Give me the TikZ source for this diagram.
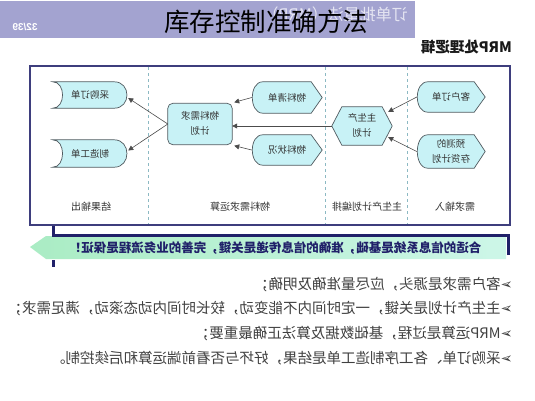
\documentclass[tikz,border=0pt]{standalone}
\usepackage{fontspec}
\usepackage{graphicx}
\usetikzlibrary{arrows.meta,calc}
\newfontfamily\cjk{Noto Sans CJK SC}
\newfontfamily\dvs{DejaVu Sans}
\newfontfamily\lib{Liberation Sans}
\newcommand\mir[1]{\reflectbox{#1}}
\newcommand\twol[2]{\begin{tabular}{@{}c@{}}#1\\#2\end{tabular}}
\pgfdeclarelayer{bg}
\pgfsetlayers{bg,main}
\definecolor{barlav}{RGB}{163,163,208}
\definecolor{shpfill}{RGB}{200,242,246}
\definecolor{shpline}{RGB}{80,90,95}
\definecolor{framec}{RGB}{62,62,125}
\definecolor{sepc}{RGB}{140,185,195}
\definecolor{navy}{RGB}{32,32,105}
\definecolor{mintL}{RGB}{170,236,196}
\definecolor{mintR}{RGB}{205,246,232}
\begin{document}
\begin{tikzpicture}[x=1pt,y=-1pt,
 shp/.style={draw=shpline,fill=shpfill,line width=0.7pt},
 tnode/.style={inner sep=0pt,text=black!80,font=\cjk\fontsize{9.5}{15}\selectfont},
 col/.style={inner sep=0pt,text=black!80,font=\cjk\fontsize{10}{12}\selectfont},
 arr/.style={draw=black!70,line width=0.6pt,-{Triangle[length=5pt,width=5pt]}},
 bul/.style={anchor=east,inner sep=0pt,text=black!75,font=\cjk\fontsize{14.5}{16}\selectfont}]
\useasboundingbox (0,0) rectangle (535,400);

% top bar
\fill[barlav] (0,1) rectangle (415,38);
\node[inner sep=0pt,anchor=east,text=white!72!barlav,font=\cjk\fontsize{16}{18}\selectfont] (ghost) at (408,14) {\mir{订单批量法（MRP）}};
\node[inner sep=0pt,text=white,font=\lib\bfseries\fontsize{10}{12}\selectfont] (pgno) at (25,27) {\mir{32/39}};
\node[inner sep=0pt,text=black,font=\cjk\fontsize{25.5}{28}\selectfont] (title) at (266,22) {库存控制准确方法};
\node[inner sep=0pt,anchor=east,text=black!90,font=\cjk\bfseries\fontsize{14.5}{16}\selectfont] (mrplogic) at (512,47) {\mir{MRP处理逻辑}};

% frame and separators
\draw[framec,line width=1.6pt] (30,66) rectangle (510,225);
\draw[sepc,dashed,line width=0.6pt] (148,67) -- (148,224);
\draw[sepc,dashed,line width=0.6pt] (325,67) -- (325,224);
\draw[sepc,dashed,line width=0.6pt] (407,67) -- (407,224);

% column labels
\node[col] (c1) at (91,207) {\mir{结果输出}};
\node[col] (c2) at (240,207) {\mir{物料需求运算}};
\node[col] (c3) at (367,207) {\mir{主生产计划编排}};
\node[col] (c4) at (455,207) {\mir{需求输入}};

% nodes
\node[tnode,minimum width=68pt,minimum height=30pt] (kh) at (451,97) {\mir{客户订单}};
\node[tnode,minimum width=68pt,minimum height=33pt] (yc) at (451,151.5) {\mir{\twol{预测的}{存货计划}}};
\node[tnode,minimum width=60pt,minimum height=38pt] (mps) at (362,126) {\mir{\twol{主生产}{计划}}};
\node[tnode,minimum width=70pt,minimum height=31pt] (bom) at (287,97.5) {\mir{物料清单}};
\node[tnode,minimum width=70pt,minimum height=30pt] (wlzk) at (287,150) {\mir{物料状况}};
\node[tnode,minimum width=64pt,minimum height=41pt] (mrp) at (200,124) {\mir{\twol{物料需求}{计划}}};
\node[tnode,minimum width=74pt,minimum height=26pt] (cg) at (90,95) {\mir{采购订单}};
\node[tnode,minimum width=74pt,minimum height=27pt] (zz) at (90,153.5) {\mir{制造工单}};

\begin{pgfonlayer}{bg}
\foreach \n in {kh,yc,bom,wlzk}{
 \path[shp] ($(\n.north west)+(11,0)$) -- ($(\n.north east)+(-11,0)$) -- (\n.east)
   -- ($(\n.south east)+(-11,0)$) -- ($(\n.south west)+(11,0)$)
   .. controls ($(\n.south west)+(-3,0)$) and ($(\n.north west)+(-3,0)$) .. ($(\n.north west)+(11,0)$) -- cycle;
}
\path[shp] (mps.west) -- ($(mps.north west)+(10,0)$) -- ($(mps.north east)+(-10,0)$) -- (mps.east)
   -- ($(mps.south east)+(-10,0)$) -- ($(mps.south west)+(10,0)$) -- cycle;
\path[shp,rounded corners=5pt] (mrp.north west) rectangle (mrp.south east);
\foreach \n in {cg,zz}{
 \path[shp] (\n.north west) -- ($(\n.north east)+(-13,0)$)
   .. controls ($(\n.north east)+(4,0)$) and ($(\n.south east)+(4,0)$) .. ($(\n.south east)+(-13,0)$)
   -- (\n.south west)
   .. controls ($(\n.south west)+(13,0)$) and ($(\n.north west)+(13,0)$) .. (\n.north west) -- cycle;
}
\end{pgfonlayer}

% connectors
\draw[arr] (kh.west) -- ($(mps.north east)+(-4,5)$);
\draw[arr] (yc.west) -- ($(mps.south east)+(-4,-8)$);
\draw[arr] (mps.west) -- (mps.west -| mrp.east);
\draw[arr] (bom.west) -- ($(mrp.north east)+(2,-1)$);
\draw[arr] (wlzk.west) -- ($(mrp.south east)+(2,1)$);
\draw[arr] (mrp.west) -- ($(cg.east)+(1,3)$);
\draw[arr] (mrp.west) -- ($(zz.east)+(1,-3)$);

% banner arrow
\shade[left color=mintL,right color=mintR] (30,247) -- (46,236) -- (506,236) -- (506,259) -- (46,259) -- cycle;
\draw[navy,line width=3pt] (53,226) -- (53,235) -- (508,235) -- (508,255);
\draw[navy,line width=3pt] (53,260) -- (53,267);
\node[inner sep=0pt,text=navy,font=\cjk\bfseries\fontsize{12.5}{14}\selectfont] (motto) at (275,248) {\mir{合适的信息系统是基础，准确的信息传递是关键，完善的业务流程是保证！}};

% bullets
\node[bul] (b1) at (513,285) {\mir{{\dvs ➢}客户需求是源头，应尽量准确及明确；}};
\node[bul] (b2) at (513,309) {\mir{{\dvs ➢}主生产计划是关键，一定时间内不能变动，较长时间内动态滚动，满足需求；}};
\node[bul] (b3) at (513,334) {\mir{{\dvs ➢}MRP运算是过程，基础数据及算法正确最重要；}};
\node[bul] (b4) at (513,358) {\mir{{\dvs ➢}采购订单、各工序制造工单是结果，好坏与否看前端运算和后续控制。}};
\end{tikzpicture}
\end{document}
